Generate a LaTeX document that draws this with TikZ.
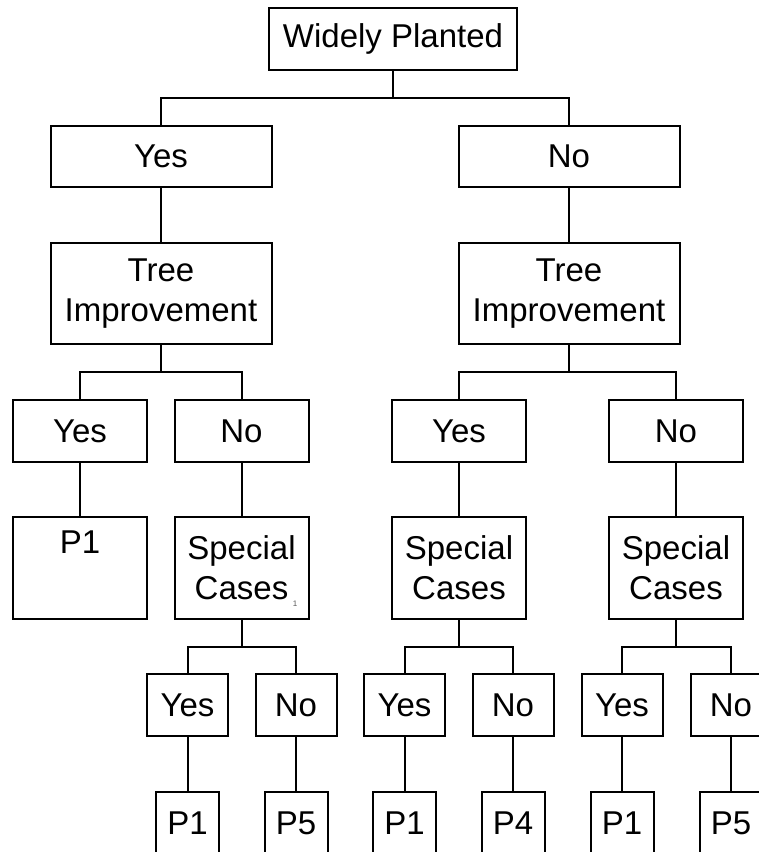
\documentclass[tikz,border=0pt]{standalone}
\usepackage{fontspec}
\setmainfont{Liberation Sans}
\begin{document}
\begin{tikzpicture}[x=1pt,y=-1pt,
  txt/.style={font=\fontsize{33}{40}\selectfont},
  box/.style={draw,line width=2pt,inner sep=0pt,align=center,txt},
  topbox/.style={box,minimum width=248pt,minimum height=62pt},
  widebox/.style={box,minimum width=221pt,minimum height=61pt},
  tibox/.style={box,minimum width=221pt,minimum height=101pt},
  midbox/.style={box,minimum width=134pt,minimum height=62pt},
  tallbox/.style={box,minimum width=134pt,minimum height=102pt},
  leafbox/.style={box,minimum width=81pt,minimum height=62pt},
  pbox/.style={box,minimum width=63pt,minimum height=62pt},
  link/.style={line width=2pt}]
\useasboundingbox (0,0) rectangle (759,852);
\clip (0,0) rectangle (759,852);
\fill[white] (0,0) rectangle (759,852);
% level 0
\node[topbox] (wp) at (393,39) {Widely Planted};
% level 1
\node[widebox] (y1) at (161,156.5) {Yes};
\node[widebox] (n1) at (569,156.5) {No};
% level 2
\node[tibox] (til) at (161,293.5) {Tree\\Improvement};
\node[tibox] (tir) at (569,293.5) {Tree\\Improvement};
% level 3
\node[midbox] (yl) at (80,431) {Yes};
\node[midbox] (nl) at (241.5,431) {No};
\node[midbox] (yr) at (459,431) {Yes};
\node[midbox] (nr) at (676,431) {No};
% level 4
\node[tallbox] (p1a) at (80,568) {P1\\\strut};
\node[tallbox] (scl) at (241.5,568) {Special\\Cases};
\node[tallbox] (scm) at (459,568) {Special\\Cases};
\node[tallbox] (scr) at (676,568) {Special\\Cases};
\node[font=\fontsize{8}{9}\selectfont,text=black!65,inner sep=0pt] (sub1) at (295,604) {1};
% level 5
\node[leafbox] (ya) at (187.5,705) {Yes};
\node[leafbox] (na) at (296,705) {No};
\node[leafbox] (yb) at (404.5,705) {Yes};
\node[leafbox] (nb) at (513,705) {No};
\node[leafbox] (yc) at (622,705) {Yes};
\node[leafbox] (nc) at (731,705) {No};
% level 6
\node[pbox] (pa) at (187.5,823) {P1};
\node[pbox] (pb) at (296,823) {P5};
\node[pbox] (pc) at (404.5,823) {P1};
\node[pbox] (pd) at (513,823) {P4};
\node[pbox] (pe) at (622,823) {P1};
\node[pbox] (pf) at (731,823) {P5};
% bar coordinates
\coordinate (b0) at (0,98);
\coordinate (b1) at (0,372);
\coordinate (b2) at (0,647);
% connectors level 0 -> 1
\draw[link] (wp.south) -- (wp.south |- b0);
\draw[link] (y1.north) -- (y1.north |- b0) -- (n1.north |- b0) -- (n1.north);
% level 1 -> 2
\draw[link] (y1.south) -- (til.north);
\draw[link] (n1.south) -- (tir.north);
% level 2 -> 3
\draw[link] (til.south) -- (til.south |- b1);
\draw[link] (yl.north) -- (yl.north |- b1) -- (nl.north |- b1) -- (nl.north);
\draw[link] (tir.south) -- (tir.south |- b1);
\draw[link] (yr.north) -- (yr.north |- b1) -- (nr.north |- b1) -- (nr.north);
% level 3 -> 4
\draw[link] (yl.south) -- (p1a.north);
\draw[link] (nl.south) -- (scl.north);
\draw[link] (yr.south) -- (scm.north);
\draw[link] (nr.south) -- (scr.north);
% level 4 -> 5
\draw[link] (scl.south) -- (scl.south |- b2);
\draw[link] (ya.north) -- (ya.north |- b2) -- (na.north |- b2) -- (na.north);
\draw[link] (scm.south) -- (scm.south |- b2);
\draw[link] (yb.north) -- (yb.north |- b2) -- (nb.north |- b2) -- (nb.north);
\draw[link] (scr.south) -- (scr.south |- b2);
\draw[link] (yc.north) -- (yc.north |- b2) -- (nc.north |- b2) -- (nc.north);
% level 5 -> 6
\draw[link] (ya.south) -- (pa.north);
\draw[link] (na.south) -- (pb.north);
\draw[link] (yb.south) -- (pc.north);
\draw[link] (nb.south) -- (pd.north);
\draw[link] (yc.south) -- (pe.north);
\draw[link] (nc.south) -- (pf.north);
\end{tikzpicture}
\end{document}
